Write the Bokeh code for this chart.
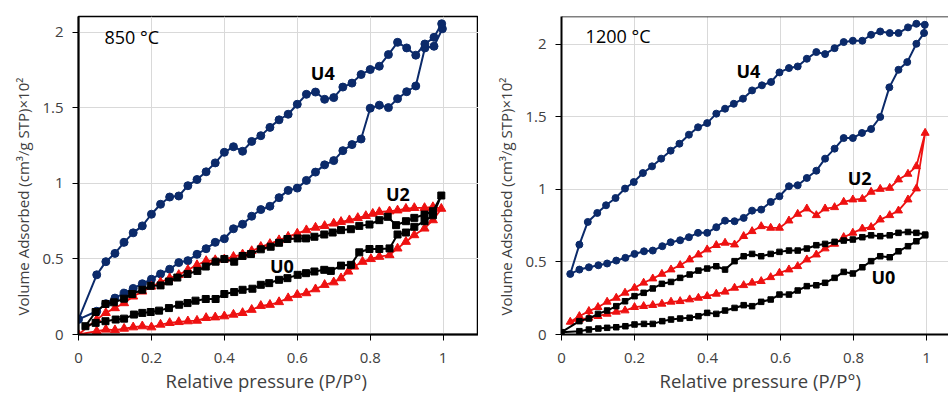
from bokeh.plotting import figure
from bokeh.layouts import row
from bokeh.models import FixedTicker, CustomJSTickFormatter, Label, Range1d, Span, Title
from bokeh.embed import file_html
from bokeh.resources import INLINE

FONT = "Open Sans"
NAVY = "#0b2a6a"
RED = "#ee1111"
BLACK = "#000000"
TXT = "#404040"

X_TICKS = [0, 0.2, 0.4, 0.6, 0.8, 1.0]
Y_TICKS = [0, 0.5, 1.0, 1.5, 2.0]
X_TITLE = "Relative pressure (P/P\u00b0)"
Y_TITLE = "Volume Adsorbed (cm\u00b3/g STP)\u00d710\u00b2"

# ---------------- 850 C ----------------
l_u4_ads_x = [0, 0.05, 0.075, 0.1, 0.125, 0.15, 0.175, 0.2, 0.225, 0.25, 0.275, 0.3, 0.325, 0.35, 0.375, 0.4,
              0.425, 0.45, 0.475, 0.5, 0.525, 0.55, 0.575, 0.6, 0.625, 0.65, 0.675, 0.7, 0.725, 0.75, 0.775, 0.8,
              0.825, 0.85, 0.875, 0.9, 0.925, 0.95, 0.975, 0.998]
l_u4_ads_y = [0.10, 0.154, 0.204, 0.241, 0.274, 0.305, 0.336, 0.366, 0.401, 0.432, 0.476, 0.489, 0.531, 0.568,
              0.61, 0.634, 0.70, 0.73, 0.783, 0.827, 0.849, 0.906, 0.954, 0.969, 1.02, 1.075, 1.123, 1.151, 1.217,
              1.257, 1.294, 1.498, 1.518, 1.502, 1.561, 1.607, 1.645, 1.897, 1.908, 2.024]
l_u4_des_x = [0.05, 0.075, 0.1, 0.125, 0.15, 0.175, 0.2, 0.225, 0.25, 0.275, 0.3, 0.325, 0.35, 0.375, 0.4, 0.425,
              0.45, 0.475, 0.5, 0.525, 0.55, 0.575, 0.6, 0.625, 0.65, 0.675, 0.7, 0.725, 0.75, 0.775, 0.8, 0.825,
              0.85, 0.875, 0.9, 0.925, 0.95, 0.975, 0.996]
l_u4_des_y = [0.395, 0.482, 0.537, 0.61, 0.673, 0.719, 0.796, 0.862, 0.91, 0.917, 0.985, 1.026, 1.077, 1.136,
              1.206, 1.243, 1.213, 1.278, 1.316, 1.371, 1.421, 1.458, 1.524, 1.59, 1.605, 1.557, 1.568, 1.638,
              1.664, 1.721, 1.754, 1.776, 1.853, 1.934, 1.897, 1.849, 1.923, 1.967, 2.057]

l_u2_ads_x = [0, 0.05, 0.075, 0.1, 0.125, 0.15, 0.175, 0.2, 0.225, 0.25, 0.275, 0.3, 0.325, 0.35, 0.375, 0.4,
              0.425, 0.45, 0.475, 0.5, 0.525, 0.55, 0.575, 0.6, 0.625, 0.65, 0.675, 0.7, 0.72, 0.74, 0.756, 0.779,
              0.802, 0.825, 0.853, 0.875, 0.898, 0.921, 0.949, 0.972, 0.995]
l_u2_ads_y = [0, 0.022, 0.033, 0.029, 0.039, 0.048, 0.055, 0.048, 0.066, 0.077, 0.083, 0.088, 0.092, 0.11, 0.114,
              0.121, 0.132, 0.143, 0.164, 0.19, 0.197, 0.215, 0.241, 0.263, 0.274, 0.30, 0.329, 0.346, 0.373,
              0.417, 0.45, 0.482, 0.50, 0.515, 0.526, 0.57, 0.614, 0.658, 0.702, 0.757, 0.833]
l_u2_des_x = [0.05, 0.075, 0.1, 0.125, 0.15, 0.175, 0.2, 0.225, 0.25, 0.275, 0.3, 0.325, 0.35, 0.375, 0.4, 0.425,
              0.45, 0.475, 0.5, 0.525, 0.55, 0.575, 0.6, 0.625, 0.65, 0.675, 0.7, 0.72, 0.743, 0.766, 0.788, 0.807,
              0.825, 0.853, 0.875, 0.898, 0.921, 0.949, 0.972]
l_u2_des_y = [0.099, 0.143, 0.175, 0.208, 0.252, 0.285, 0.318, 0.346, 0.373, 0.395, 0.428, 0.46, 0.487, 0.493,
              0.498, 0.515, 0.531, 0.553, 0.581, 0.60, 0.625, 0.648, 0.669, 0.691, 0.708, 0.719, 0.735, 0.746,
              0.757, 0.772, 0.785, 0.80, 0.811, 0.816, 0.822, 0.833, 0.838, 0.838, 0.844]

l_u0_ads_x = [0.019, 0.047, 0.074, 0.102, 0.125, 0.152, 0.175, 0.198, 0.221, 0.248, 0.276, 0.299, 0.321, 0.349,
              0.376, 0.4, 0.427, 0.45, 0.477, 0.5, 0.523, 0.55, 0.573, 0.601, 0.624, 0.647, 0.674, 0.692, 0.72,
              0.747, 0.77, 0.798, 0.825, 0.853, 0.875, 0.898, 0.921, 0.949, 0.972, 0.995]
l_u0_ads_y = [0.055, 0.077, 0.088, 0.099, 0.105, 0.132, 0.143, 0.149, 0.158, 0.175, 0.197, 0.208, 0.224, 0.235,
              0.235, 0.268, 0.281, 0.296, 0.303, 0.329, 0.34, 0.362, 0.373, 0.395, 0.406, 0.417, 0.428, 0.421,
              0.456, 0.461, 0.544, 0.566, 0.566, 0.57, 0.662, 0.675, 0.713, 0.75, 0.789, 0.92]
l_u0_des_x = [0.047, 0.074, 0.097, 0.125, 0.147, 0.175, 0.198, 0.225, 0.248, 0.271, 0.299, 0.326, 0.349, 0.376,
              0.4, 0.427, 0.45, 0.473, 0.5, 0.527, 0.55, 0.573, 0.601, 0.624, 0.647, 0.674, 0.697, 0.72, 0.747,
              0.77, 0.798, 0.825, 0.848, 0.871, 0.898, 0.921, 0.949, 0.972]
l_u0_des_y = [0.149, 0.202, 0.213, 0.237, 0.268, 0.296, 0.322, 0.325, 0.351, 0.377, 0.401, 0.421, 0.45, 0.482,
              0.50, 0.482, 0.52, 0.533, 0.564, 0.581, 0.607, 0.632, 0.636, 0.636, 0.647, 0.662, 0.675, 0.691,
              0.697, 0.719, 0.728, 0.757, 0.779, 0.724, 0.75, 0.772, 0.794, 0.816]

# ---------------- 1200 C ----------------
r_u4_ads_x = [0.024, 0.049, 0.075, 0.101, 0.125, 0.15, 0.175, 0.2, 0.226, 0.25, 0.276, 0.299, 0.325, 0.349,
              0.374, 0.399, 0.424, 0.448, 0.474, 0.499, 0.522, 0.547, 0.573, 0.597, 0.623, 0.647, 0.672, 0.698,
              0.722, 0.748, 0.773, 0.798, 0.823, 0.848, 0.873, 0.898, 0.923, 0.947, 0.972, 0.993]
r_u4_ads_y = [0.417, 0.447, 0.463, 0.477, 0.489, 0.509, 0.528, 0.555, 0.573, 0.578, 0.608, 0.635, 0.649, 0.67,
              0.70, 0.70, 0.739, 0.784, 0.78, 0.803, 0.853, 0.86, 0.913, 0.952, 1.021, 1.028, 1.078, 1.128, 1.211,
              1.28, 1.353, 1.353, 1.388, 1.415, 1.498, 1.702, 1.823, 1.876, 2.002, 2.076]
r_u4_des_x = [0.049, 0.072, 0.098, 0.122, 0.148, 0.174, 0.198, 0.223, 0.248, 0.273, 0.299, 0.323, 0.349, 0.374,
              0.399, 0.424, 0.448, 0.472, 0.497, 0.522, 0.549, 0.574, 0.597, 0.623, 0.647, 0.672, 0.698, 0.722,
              0.748, 0.773, 0.798, 0.824, 0.848, 0.873, 0.899, 0.923, 0.949, 0.972, 0.995]
r_u4_des_y = [0.619, 0.775, 0.837, 0.89, 0.94, 1.005, 1.05, 1.112, 1.158, 1.211, 1.266, 1.314, 1.376, 1.427,
              1.456, 1.521, 1.555, 1.589, 1.624, 1.681, 1.716, 1.739, 1.805, 1.835, 1.846, 1.899, 1.945, 1.931,
              1.972, 2.014, 2.023, 2.023, 2.064, 2.087, 2.076, 2.076, 2.115, 2.14, 2.133]

r_u2_ads_x = [0.024, 0.049, 0.075, 0.1, 0.125, 0.15, 0.174, 0.2, 0.225, 0.25, 0.275, 0.3, 0.325, 0.351, 0.375,
              0.399, 0.424, 0.448, 0.474, 0.499, 0.522, 0.547, 0.573, 0.597, 0.623, 0.647, 0.672, 0.698, 0.722,
              0.748, 0.773, 0.798, 0.824, 0.848, 0.873, 0.899, 0.923, 0.949, 0.972, 0.996]
r_u2_ads_y = [0.087, 0.103, 0.115, 0.126, 0.142, 0.156, 0.165, 0.188, 0.195, 0.202, 0.211, 0.225, 0.229, 0.241,
              0.252, 0.264, 0.28, 0.294, 0.321, 0.339, 0.356, 0.367, 0.394, 0.424, 0.447, 0.47, 0.516, 0.55, 0.592,
              0.624, 0.67, 0.70, 0.729, 0.739, 0.791, 0.821, 0.853, 0.929, 1.005, 1.388]
r_u2_des_x = [0.049, 0.075, 0.1, 0.125, 0.15, 0.174, 0.2, 0.225, 0.25, 0.275, 0.3, 0.325, 0.351, 0.375, 0.399,
              0.424, 0.448, 0.474, 0.499, 0.522, 0.547, 0.573, 0.597, 0.623, 0.647, 0.672, 0.698, 0.722, 0.748,
              0.773, 0.798, 0.824, 0.848, 0.873, 0.899, 0.923, 0.949, 0.972]
r_u2_des_y = [0.126, 0.161, 0.188, 0.225, 0.252, 0.287, 0.321, 0.356, 0.385, 0.417, 0.447, 0.477, 0.516, 0.55,
              0.585, 0.615, 0.631, 0.619, 0.677, 0.711, 0.745, 0.734, 0.734, 0.784, 0.83, 0.867, 0.821, 0.867,
              0.876, 0.913, 0.929, 0.933, 0.982, 1.002, 1.009, 1.067, 1.106, 1.158]

r_u0_ads_x = [0, 0.049, 0.075, 0.101, 0.125, 0.15, 0.175, 0.2, 0.226, 0.25, 0.276, 0.3, 0.325, 0.351, 0.375,
              0.399, 0.424, 0.448, 0.474, 0.499, 0.522, 0.547, 0.573, 0.597, 0.623, 0.647, 0.672, 0.698, 0.722,
              0.748, 0.773, 0.798, 0.824, 0.848, 0.873, 0.899, 0.923, 0.949, 0.972, 0.996]
r_u0_ads_y = [0.016, 0.023, 0.034, 0.041, 0.046, 0.05, 0.057, 0.069, 0.073, 0.073, 0.092, 0.103, 0.11, 0.115,
              0.126, 0.149, 0.142, 0.165, 0.183, 0.202, 0.195, 0.225, 0.241, 0.275, 0.275, 0.303, 0.333, 0.339,
              0.356, 0.39, 0.431, 0.42, 0.463, 0.505, 0.539, 0.532, 0.573, 0.608, 0.642, 0.683]
r_u0_des_x = [0.049, 0.075, 0.1, 0.125, 0.15, 0.174, 0.2, 0.225, 0.25, 0.275, 0.3, 0.325, 0.351, 0.375, 0.399,
              0.424, 0.448, 0.474, 0.499, 0.522, 0.547, 0.573, 0.597, 0.623, 0.647, 0.672, 0.698, 0.722, 0.748,
              0.773, 0.798, 0.824, 0.848, 0.873, 0.899, 0.923, 0.949, 0.972, 0.996]
r_u0_des_y = [0.092, 0.11, 0.142, 0.165, 0.195, 0.229, 0.264, 0.287, 0.317, 0.349, 0.362, 0.39, 0.413, 0.44,
              0.454, 0.47, 0.447, 0.505, 0.539, 0.555, 0.539, 0.555, 0.569, 0.578, 0.578, 0.592, 0.615, 0.624,
              0.638, 0.647, 0.654, 0.67, 0.683, 0.677, 0.683, 0.70, 0.706, 0.70, 0.688]


def make_fig(width, xmax, ymax, bl, bt, bb):
    p = figure(width=width, height=394, x_range=Range1d(0, xmax), y_range=Range1d(0, ymax),
               output_backend="svg", toolbar_location=None,
               min_border_left=bl, min_border_right=0, min_border_top=bt, min_border_bottom=bb)
    p.background_fill_color = "white"
    p.border_fill_color = "white"
    p.outline_line_color = "black"
    p.outline_line_width = 1.5
    p.grid.grid_line_color = "#d9d9d9"
    p.grid.grid_line_width = 1
    fmt = CustomJSTickFormatter(code="return String(Math.round(tick*10)/10);")
    for ax, ticks in ((p.xaxis, X_TICKS), (p.yaxis, Y_TICKS)):
        ax.ticker = FixedTicker(ticks=ticks)
        ax.formatter = fmt
        ax.axis_line_color = "black"
        ax.axis_line_width = 2
        ax.major_tick_line_color = "black"
        ax.major_tick_line_width = 1
        ax.major_tick_in = 0
        ax.major_tick_out = 6
        ax.minor_tick_line_color = None
        ax.major_label_text_font = FONT
        ax.major_label_text_font_size = "15px"
        ax.major_label_text_color = TXT
    p.xaxis.major_label_standoff = 12
    p.yaxis.major_label_standoff = 9
    return p


def add_titles(p, x_offset, y_offset, y_standoff):
    p.add_layout(Title(text=X_TITLE, align="left", offset=x_offset, standoff=0,
                       text_font=FONT, text_font_size="18.5px", text_font_style="normal",
                       text_color=TXT), "below")
    p.add_layout(Title(text=Y_TITLE, align="left", offset=y_offset, standoff=y_standoff,
                       text_font=FONT, text_font_size="15px", text_font_style="normal",
                       text_color=TXT), "left")


def add_loop(p, ax, ay, dx, dy, color, marker, size, lw):
    xs = list(ax) + list(dx[::-1]) + [ax[0]]
    ys = list(ay) + list(dy[::-1]) + [ay[0]]
    p.line(xs, ys, line_color=color, line_width=lw)
    p.scatter(list(ax) + list(dx), list(ay) + list(dy), marker=marker, size=size,
              fill_color=color, line_color=color)


def add_text(p, x, y, text, bold):
    p.add_layout(Label(x=x, y=y, text=text, text_font=FONT, text_font_size="18px",
                       text_font_style="bold" if bold else "normal", text_color="black",
                       text_baseline="middle", text_align="left"))


p1 = make_fig(478, 1.097, 2.105, 78, 14, 60)
add_loop(p1, l_u4_ads_x, l_u4_ads_y, l_u4_des_x, l_u4_des_y, NAVY, "circle", 8, 2)
add_loop(p1, l_u2_ads_x, l_u2_ads_y, l_u2_des_x, l_u2_des_y, RED, "triangle", 9, 1.8)
add_loop(p1, l_u0_ads_x, l_u0_ads_y, l_u0_des_x, l_u0_des_y, BLACK, "square", 7, 2)
add_text(p1, 0.071, 1.97, "850 \u00b0C", False)
add_text(p1, 0.637, 1.73, "U4", True)
add_text(p1, 0.843, 0.928, "U2", True)
add_text(p1, 0.525, 0.454, "U0", True)
add_titles(p1, 87, 19, 14)

p2 = make_fig(470, 1.06, 2.19, 83, 16, 60)
p2.outline_line_color = None
p2.add_layout(Span(location=p2.y_range.end, dimension="width", line_color="black", line_width=1.5))
add_loop(p2, r_u4_ads_x, r_u4_ads_y, r_u4_des_x, r_u4_des_y, NAVY, "circle", 7, 2)
add_loop(p2, r_u2_ads_x, r_u2_ads_y, r_u2_des_x, r_u2_des_y, RED, "triangle", 8, 1.8)
add_loop(p2, r_u0_ads_x, r_u0_ads_y, r_u0_des_x, r_u0_des_y, BLACK, "square", 5.5, 2)
add_text(p2, 0.066, 2.056, "1200 \u00b0C", False)
add_text(p2, 0.479, 1.815, "U4", True)
add_text(p2, 0.784, 1.078, "U2", True)
add_text(p2, 0.849, 0.397, "U0", True)
add_titles(p2, 98, 19, 14)

layout = row(p1, p2)
open("out.html", "w").write(file_html(layout, INLINE))
